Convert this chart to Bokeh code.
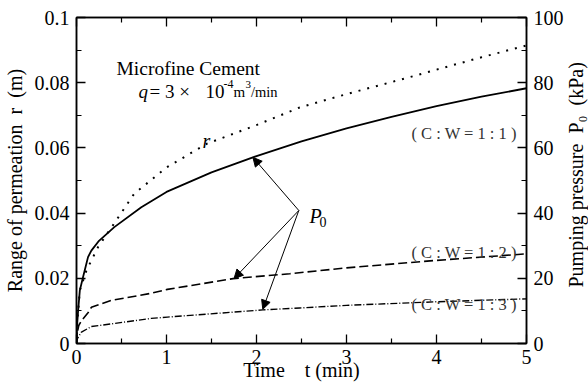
from math import pi
from bokeh.plotting import figure
from bokeh.models import (Range1d, LinearAxis, FixedTicker, CustomJSTickFormatter,
                          Label, Arrow, NormalHead)
from bokeh.embed import file_html
from bokeh.resources import INLINE

# ---- data ----
# range of permeation r (m), left axis
t_r = [0, 0.01, 0.037, 0.11, 0.24, 0.44, 0.64, 1.0, 1.45, 2.0, 2.48, 3.0, 3.65, 4.0, 4.5, 5.0]
r_m = [0, 0.007, 0.0163, 0.0224, 0.0296, 0.0377, 0.0459, 0.054, 0.0613, 0.067, 0.0724,
       0.0765, 0.0813, 0.084, 0.0878, 0.0914]

# pumping pressure P0 (kPa), right axis
t_11 = [0, 0.005, 0.018, 0.037, 0.073, 0.128, 0.165, 0.25, 0.42, 0.72, 1.0, 1.5, 2.0,
        2.5, 3.0, 3.5, 4.0, 4.5, 5.0]
p_11 = [0, 5, 10.1, 16.3, 20.4, 26.5, 28.5, 31.5, 35.7, 41.8, 46.5, 52.5, 57.5,
        62, 66, 69.5, 72.8, 75.7, 78.3]

t_12 = [0, 0.01, 0.025, 0.055, 0.13, 0.165, 0.385, 0.83, 1.01, 1.74, 2.37, 3.0, 4.0, 5.0]
p_12 = [0, 3.5, 5.5, 7.0, 9.5, 11.1, 13.2, 15.4, 16.6, 19.9, 21.4, 23.2, 25.5, 27.5]

t_13 = [0, 0.01, 0.055, 0.165, 0.385, 0.83, 1.01, 2.07, 2.48, 3.0, 4.0, 5.0]
p_13 = [0, 1.5, 3.5, 5.2, 6.0, 7.7, 8.1, 10.3, 10.9, 11.7, 12.8, 13.7]

x_ticks = [0, 1, 2, 3, 4, 5]
x_minor = [0.5, 1.5, 2.5, 3.5, 4.5]
yl_ticks = [0, 0.02, 0.04, 0.06, 0.08, 0.1]
yl_minor = [0.01, 0.03, 0.05, 0.07, 0.09]
yr_ticks = [0, 20, 40, 60, 80, 100]
yr_minor = [10, 30, 50, 70, 90]

x_title = "Time\u00a0\u00a0\u00a0\u00a0t (min)"
yl_title = "Range of permeation\u00a0 r\u00a0 (m)"
yr_title = "Pumping pressure\u00a0 P\u2080\u00a0 (kPa)"

# arrows for P0 (start point and the three tips), right-axis units
arrow_from = (2.47, 40.8)
arrow_tips_t = [1.96, 1.75, 2.07]
arrow_tips_p = [57.1, 19.9, 10.5]

cw_labels = ["( C : W = 1 : 1 )", "( C : W = 1 : 2 )", "( C : W = 1 : 3 )"]

FONT = "'Liberation Serif', 'Times New Roman', serif"

p = figure(width=588, height=391, x_range=Range1d(0, 5), y_range=Range1d(0, 0.1),
           output_backend="svg", toolbar_location=None,
           min_border_left=75, min_border_right=59, min_border_top=17, min_border_bottom=48)
p.extra_y_ranges = {"p": Range1d(0, 100)}
p.grid.visible = False
p.outline_line_color = "black"
p.outline_line_width = 1.5
p.background_fill_color = "white"
p.border_fill_color = "white"


def style(ax):
    ax.axis_line_color = "black"
    ax.axis_line_width = 1.5
    ax.major_tick_in = 9
    ax.major_tick_out = 0
    ax.minor_tick_in = 5
    ax.minor_tick_out = 0
    ax.major_tick_line_width = 1.3
    ax.minor_tick_line_width = 1.2
    ax.major_tick_line_color = "black"
    ax.minor_tick_line_color = "black"
    ax.major_label_text_font = FONT
    ax.major_label_text_font_size = "20px"
    ax.major_label_text_color = "black"
    ax.axis_label_text_font = FONT
    ax.axis_label_text_font_size = "20px"
    ax.axis_label_text_font_style = "normal"
    ax.axis_label_text_color = "black"


xb = p.xaxis[0]
xb.ticker = FixedTicker(ticks=x_ticks, minor_ticks=x_minor)
style(xb)
xb.major_label_standoff = 6
xb.axis_label = x_title
xb.axis_label_standoff = -8

yl = p.yaxis[0]
yl.ticker = FixedTicker(ticks=yl_ticks, minor_ticks=yl_minor)
yl.formatter = CustomJSTickFormatter(
    code="return tick === 0 ? '0' : parseFloat(tick.toFixed(2)).toString();")
style(yl)
yl.major_label_standoff = 7
yl.axis_label = yl_title
yl.axis_label_standoff = 6

yr = LinearAxis(y_range_name="p", ticker=FixedTicker(ticks=yr_ticks, minor_ticks=yr_minor))
style(yr)
yr.major_label_standoff = 7
p.add_layout(yr, "right")

# right-hand title as a label in its own side panel (reads bottom to top)
p.add_layout(Label(x=9, y=56, x_units="screen", y_units="screen", text=yr_title,
                   text_font=FONT, text_font_size="20px", angle=pi / 2,
                   text_align="left", text_baseline="alphabetic", text_color="black"), "right")

xt = LinearAxis(ticker=FixedTicker(ticks=x_ticks, minor_ticks=x_minor),
                formatter=CustomJSTickFormatter(code="return '';"))
style(xt)
xt.major_label_standoff = 0
p.add_layout(xt, "above")

# curves
p.line(t_r, r_m, line_color="black", line_width=2, line_dash="2 7")
p.line(t_11, p_11, y_range_name="p", line_color="black", line_width=1.8)
p.line(t_12, p_12, y_range_name="p", line_color="black", line_width=1.6, line_dash="9 4")
p.line(t_13, p_13, y_range_name="p", line_color="black", line_width=1.4, line_dash="7 2 1 2")


# frame origin in canvas pixels (left, bottom)
FX, FY = 75, 343


def L(sx, sy, text, size="20px", style="normal", angle=0, align="left", color="black"):
    p.add_layout(Label(x=sx - FX, y=FY - sy, x_units="screen", y_units="screen", text=text,
                       text_font=FONT, text_font_size=size, text_font_style=style, angle=angle,
                       text_align=align, text_baseline="alphabetic", text_color=color))


# annotations inside the frame
L(115, 68, "Microfine Cement", size="19.5px")
L(137, 91, "q", size="19px", style="italic")
L(148, 91, "= 3 \u00d7", size="19px")
L(204, 91, "10", size="19px")
L(222, 83, "-4", size="12px")
L(232, 91, "m", size="15px")
L(244, 84, "3", size="11px")
L(249.5, 91, "/min", size="14.5px")
L(201, 140, "r", style="italic")
L(308, 215, "P", style="italic")
L(318, 221, "0", size="14px")
for lab, sy in zip(cw_labels, [133, 252, 304]):
    L(410, sy, lab, size="16.5px", color="#333333")

for tx, ty in zip(arrow_tips_t, arrow_tips_p):
    p.add_layout(Arrow(end=NormalHead(size=9, fill_color="black", line_color="black", line_width=1),
                       x_start=arrow_from[0], y_start=arrow_from[1], x_end=tx, y_end=ty,
                       y_range_name="p", line_color="black", line_width=1))

open("out.html", "w").write(file_html(p, INLINE))
